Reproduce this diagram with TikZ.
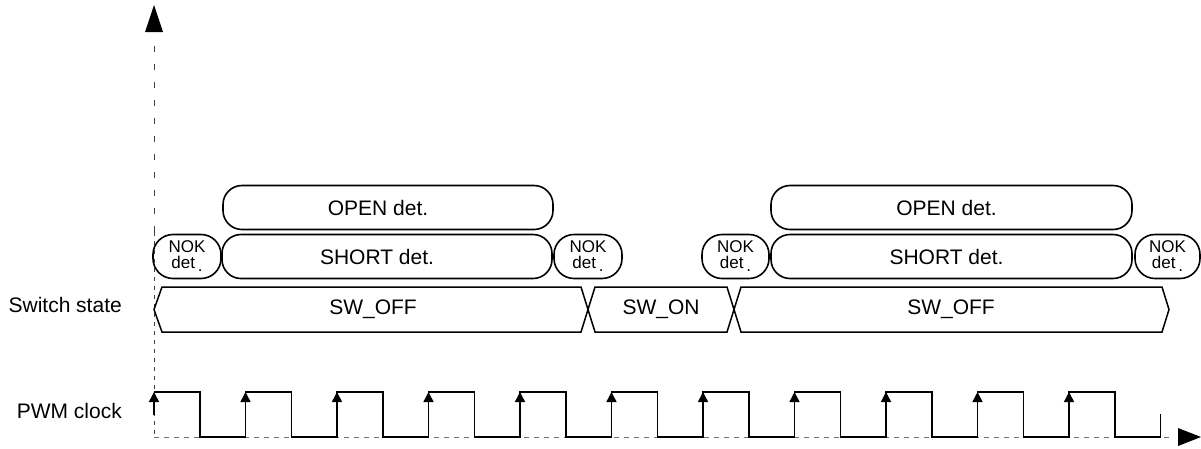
\documentclass[tikz,border=0pt]{standalone}
\usepackage{fontspec}
\setmainfont{Liberation Sans}
\usetikzlibrary{arrows.meta}
\tikzset{
  detbox/.style={draw=black, line width=1.6pt, rounded corners=19pt, minimum height=44pt, inner sep=0pt, font=\fontsize{21}{24}\selectfont},
  nokbox/.style={detbox, rounded corners=20pt, minimum height=44pt, align=center, font=\fontsize{17}{16}\selectfont},
  bus/.style={draw=black, line width=1.5pt, line join=miter},
  wave/.style={draw=black, line width=1.5pt},
  edgearrow/.style={draw=black, line width=1.5pt, -{Triangle[width=10pt,length=10pt]}},
  axisline/.style={draw=black!75, line width=1pt},
  lbl/.style={font=\fontsize{21}{24}\selectfont, inner sep=0pt},
  buslbl/.style={font=\fontsize{21}{24}\selectfont, inner sep=0pt}
}
\newcommand{\nokdet}{NOK\\det\,\raisebox{-3pt}{.}}
\begin{document}
\begin{tikzpicture}[x=1pt,y=-1pt]
\useasboundingbox (0,0) rectangle (1201,448);
% axes
\draw[axisline, dash pattern=on 6pt off 12pt] (154,46) -- (154,232);
\draw[axisline, dash pattern=on 4pt off 5pt] (154,232) -- (154,437);
\draw[axisline, draw=black!55, dash pattern=on 5pt off 5pt] (154,437) -- (1170,437);
\fill (145,32) -- (154,5) -- (163,32) -- cycle;
\fill (1178,428) -- (1201,437) -- (1178,446) -- cycle;
% labels
\node[lbl, anchor=east] (lsw) at (122,305) {Switch state};
\node[lbl, anchor=east] (lpwm) at (122,411) {PWM clock};
% detection boxes
\node[detbox, minimum width=330pt] (open1) at (388,207.5) {OPEN det.\hspace*{20pt}};
\node[detbox, minimum width=330pt] (short1) at (387,256.5) {SHORT det.\hspace*{20pt}};
\node[detbox, minimum width=361pt] (open2) at (951.5,207.5) {OPEN det.\hspace*{10pt}};
\node[detbox, minimum width=361pt] (short2) at (951.5,256.5) {SHORT det.\hspace*{10pt}};
\node[nokbox, minimum width=68pt] (nok1) at (187,256.5) {\nokdet};
\node[nokbox, minimum width=68pt] (nok2) at (588,256.5) {\nokdet};
\node[nokbox, minimum width=67pt] (nok3) at (735.5,256.5) {\nokdet};
\node[nokbox, minimum width=65pt] (nok4) at (1167.5,256.5) {\nokdet};
% bus
\draw[bus] (154,309.5) -- (162,287) -- (581,287) -- (588,309.5) -- (581,332) -- (162,332) -- cycle;
\draw[bus] (588,309.5) -- (595,287) -- (727,287) -- (734,309.5) -- (727,332) -- (595,332) -- cycle;
\draw[bus] (734,309.5) -- (741,287) -- (1162,287) -- (1169,309.5) -- (1162,332) -- (741,332) -- cycle;
\node[buslbl] (off1) at (373,309.5) {SW\_OFF};
\node[buslbl] (on1) at (661,309.5) {SW\_ON};
\node[buslbl] (off2) at (951,309.5) {SW\_OFF};
% PWM clock
\draw[wave] (154,392) foreach \k in {0,...,10} { -- ({154+91.5*\k},392) -- ({199.75+91.5*\k},392) -- ({199.75+91.5*\k},437) -- ({245.5+91.5*\k},437) } -- (1160.5,414);
\draw[edgearrow] (154,415) -- (154,392);
\foreach \k in {1,...,10} \draw[edgearrow] ({154+91.5*\k},437) -- ({154+91.5*\k},392);
\end{tikzpicture}
\end{document}
